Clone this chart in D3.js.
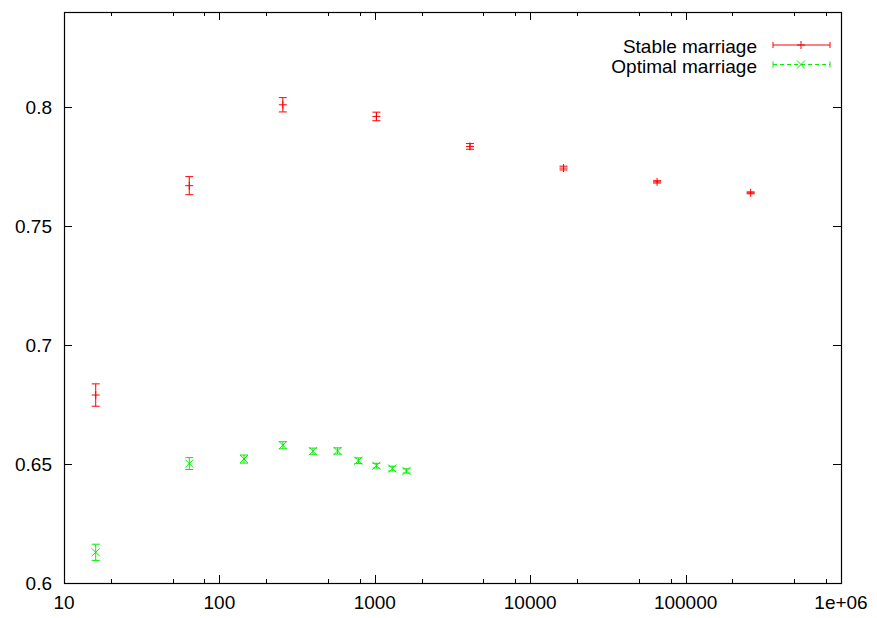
<!DOCTYPE html>
<html>
<head>
<meta charset="utf-8">
<script src="https://cdn.jsdelivr.net/npm/d3@7"></script>
<style>
  body { margin: 0; background: #fff; }
  text { font-family: "Liberation Sans", Arial, sans-serif; font-size: 19px; fill: #000; }
</style>
</head>
<body>
<div id="chart"></div>
<script>
// stable marriage: n, mean, error
var stableN = [16, 64, 256, 1024, 4096, 16384, 65536, 262144];
var stableY = [0.679, 0.767, 0.801, 0.7961, 0.7835, 0.7744, 0.7686, 0.7640];
var stableErr = [0.0047, 0.0038, 0.0030, 0.0018, 0.0012, 0.0008, 0.0005, 0.0004];

// optimal marriage
var optimalN = [16, 64, 144, 256, 400, 576, 784, 1024, 1296, 1600];
var optimalY = [0.6129, 0.6502, 0.6521, 0.6579, 0.6554, 0.6555, 0.6514, 0.6493, 0.6481, 0.6471];
var optimalErr = [0.0034, 0.0025, 0.0017, 0.0015, 0.0013, 0.0013, 0.0012, 0.0010, 0.0010, 0.0009];

var xTicks = [10, 100, 1000, 10000, 100000, 1000000];
var xTickLabels = ["10", "100", "1000", "10000", "100000", "1e+06"];
var yTicks = [0.6, 0.65, 0.7, 0.75, 0.8];
var yTickLabels = ["0.6", "0.65", "0.7", "0.75", "0.8"];

var W = 877, H = 618;
var margin = {top: 12, right: 36, bottom: 35, left: 64};
var width = W - margin.left - margin.right,
    height = H - margin.top - margin.bottom;

var svg = d3.select("#chart").append("svg")
  .attr("width", W).attr("height", H);
var g = svg.append("g")
  .attr("transform", "translate(" + margin.left + "," + margin.top + ")");

var x = d3.scaleLog().domain([10, 1e6]).range([0, width]);
var y = d3.scaleLinear().domain([0.6, 0.84]).range([height, 0]);

// minor tics at 2, 5, 8 of each decade
var minor = [];
for (var d = 10; d < 1e6; d *= 10) {
  minor.push(2 * d, 5 * d, 8 * d);
}

var tickG = g.append("g").attr("stroke", "#000").attr("stroke-width", 1);
xTicks.forEach(function(v) {
  var px = Math.round(x(v)) + 0.5;
  tickG.append("line").attr("x1", px).attr("x2", px).attr("y1", height).attr("y2", height - 8);
  tickG.append("line").attr("x1", px).attr("x2", px).attr("y1", 0).attr("y2", 8);
});
minor.forEach(function(v) {
  var px = Math.round(x(v)) + 0.5;
  tickG.append("line").attr("x1", px).attr("x2", px).attr("y1", height).attr("y2", height - 4);
  tickG.append("line").attr("x1", px).attr("x2", px).attr("y1", 0).attr("y2", 4);
});
yTicks.forEach(function(v) {
  var py = Math.round(y(v)) + 0.5;
  tickG.append("line").attr("x1", 0).attr("x2", 8).attr("y1", py).attr("y2", py);
  tickG.append("line").attr("x1", width).attr("x2", width - 8).attr("y1", py).attr("y2", py);
});

// tick labels
g.selectAll(".xl").data(xTicks).enter().append("text")
  .attr("x", function(d) { return x(d); })
  .attr("y", height + 26)
  .attr("text-anchor", "middle")
  .text(function(d, i) { return xTickLabels[i]; });
g.selectAll(".yl").data(yTicks).enter().append("text")
  .attr("x", -12)
  .attr("y", function(d) { return y(d) + 7; })
  .attr("text-anchor", "end")
  .text(function(d, i) { return yTickLabels[i]; });

// border
g.append("rect").attr("x", 0.5).attr("y", 0.5).attr("width", width).attr("height", height)
  .attr("fill", "none").attr("stroke", "#000").attr("stroke-width", 1.2);

function errorBars(ns, ys, errs, color, mark) {
  var grp = g.append("g").attr("stroke", color).attr("stroke-width", 1).attr("fill", "none");
  ns.forEach(function(n, i) {
    var px = x(n), lo = y(ys[i] - errs[i]), hi = y(ys[i] + errs[i]), py = y(ys[i]);
    grp.append("line").attr("x1", px).attr("x2", px).attr("y1", lo).attr("y2", hi);
    grp.append("line").attr("x1", px - 4).attr("x2", px + 4).attr("y1", lo).attr("y2", lo);
    grp.append("line").attr("x1", px - 4).attr("x2", px + 4).attr("y1", hi).attr("y2", hi);
    mark(grp, px, py);
  });
}
function plus(grp, px, py) {
  grp.append("line").attr("x1", px - 4).attr("x2", px + 4).attr("y1", py).attr("y2", py);
  grp.append("line").attr("x1", px).attr("x2", px).attr("y1", py - 4).attr("y2", py + 4);
}
function cross(grp, px, py) {
  grp.append("line").attr("x1", px - 4).attr("x2", px + 4).attr("y1", py - 4).attr("y2", py + 4);
  grp.append("line").attr("x1", px - 4).attr("x2", px + 4).attr("y1", py + 4).attr("y2", py - 4);
}

errorBars(stableN, stableY, stableErr, "#ff0000", plus);
errorBars(optimalN, optimalY, optimalErr, "#00f000", cross);

// legend
var legend = [
  {name: "Stable marriage", color: "#ff0000", dash: null, mark: plus},
  {name: "Optimal marriage", color: "#00f000", dash: "4,3", mark: cross}
];
legend.forEach(function(l, i) {
  var ly = 33 + i * 19.5;
  g.append("text").attr("x", 693).attr("y", ly + 8.3).attr("text-anchor", "end").text(l.name);
  var lg = g.append("g").attr("stroke", l.color).attr("stroke-width", 1);
  lg.append("line").attr("x1", 709).attr("x2", 766).attr("y1", ly).attr("y2", ly)
    .attr("stroke-dasharray", l.dash);
  lg.append("line").attr("x1", 709).attr("x2", 709).attr("y1", ly - 3).attr("y2", ly + 3);
  lg.append("line").attr("x1", 766).attr("x2", 766).attr("y1", ly - 3).attr("y2", ly + 3);
  l.mark(lg, 737, ly);
});
</script>
</body>
</html>
